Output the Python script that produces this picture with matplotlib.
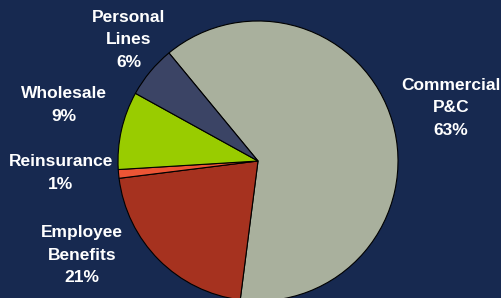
import matplotlib
matplotlib.use("Agg")
import matplotlib.pyplot as plt

categories = ["Commercial\nP&C", "Employee\nBenefits", "Reinsurance", "Wholesale", "Personal\nLines"]
values = [63, 21, 1, 9, 6]
colors = ["#a9b09d", "#a6321f", "#ec5535", "#99cc00", "#3b4465"]

# label centre positions in pixel offsets from pie centre (x right, y up)
label_pos = [(193, 53), (-176, -94), (-197, -12), (-194, 56), (-129, 121)]

BG = "#172950"
W, H = 502, 298
cx, cy, R = 258, 161, 140

fig = plt.figure(figsize=(W / 100, H / 100), dpi=100, facecolor=BG)
ax = fig.add_axes([0, 0, 1, 1])
ax.set_facecolor(BG)
ax.set_xlim(-cx, W - cx)
ax.set_ylim(-(H - cy), cy)
ax.set_aspect("equal")
ax.axis("off")

ax.pie(values, colors=colors, radius=R, startangle=129.5, counterclock=False,
       wedgeprops=dict(edgecolor="black", linewidth=0.8))

for cat, v, (x, y) in zip(categories, values, label_pos):
    ax.text(x, y, f"{cat}\n{v}%", ha="center", va="center", color="white",
            fontsize=12.5, fontweight="bold", family="Liberation Sans",
            linespacing=1.65)

ax.set_xlim(-cx, W - cx)
ax.set_ylim(-(H - cy), cy)
fig.savefig("out.png", dpi=100, facecolor=BG)
